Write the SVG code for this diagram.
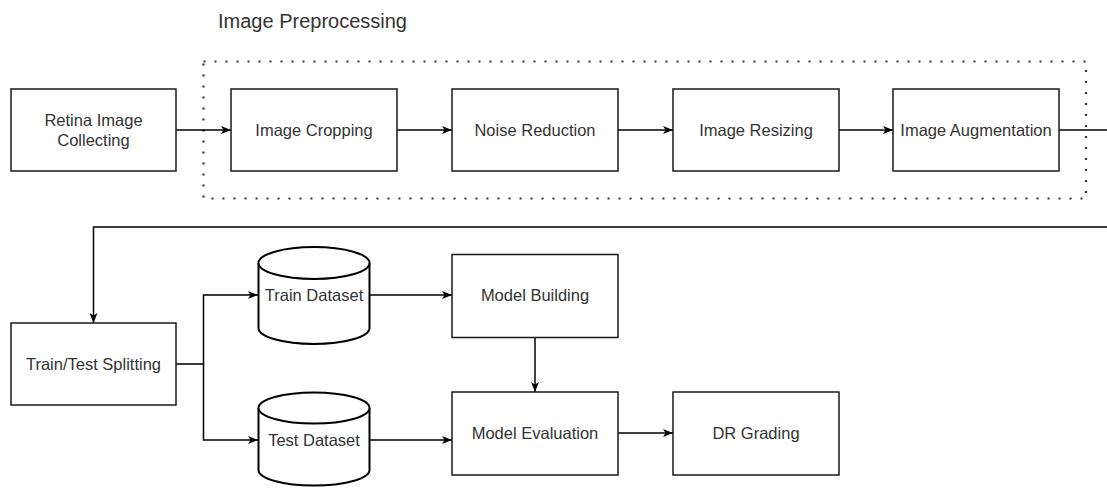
<svg xmlns="http://www.w3.org/2000/svg" width="1107" height="488" viewBox="0 0 1107 488">
<style>
.box{fill:#fff;stroke:#1a1a1a;stroke-width:1.5}
.cyl{fill:#fff;stroke:#000;stroke-width:2}
.t{font-family:"Liberation Sans",Arial,sans-serif;font-size:16.5px;fill:#333;text-anchor:middle}
.c{fill:none;stroke:#000;stroke-width:1.5}
</style>
<defs>
<marker id="a" viewBox="0 0 10 8" refX="10" refY="4" markerWidth="10" markerHeight="8" markerUnits="userSpaceOnUse" orient="auto">
<path d="M0,0 L10,4 L0,8 L2.5,4 Z" fill="#000"/>
</marker>
</defs>
<rect width="1107" height="488" fill="#fff"/>
<g id="preprocessing-group">
<rect x="203.5" y="61.5" width="882.5" height="137" fill="none" stroke="#333" stroke-width="2.2" stroke-dasharray="2 9"/>
<text x="218" y="28" font-family="Liberation Sans,Arial,sans-serif" font-size="20px" fill="#333">Image Preprocessing</text>
</g>
<g id="connectors">
<path class="c" d="M176,130 H231" marker-end="url(#a)"/>
<path class="c" d="M397,130 H452" marker-end="url(#a)"/>
<path class="c" d="M618,130 H673" marker-end="url(#a)"/>
<path class="c" d="M839,130 H893" marker-end="url(#a)"/>
<path class="c" d="M1059,130 H1107"/>
<path class="c" d="M1107,227 H93.5 V323" marker-end="url(#a)"/>
<path class="c" d="M176,364 H203.5 V295 H258" marker-end="url(#a)"/>
<path class="c" d="M203.5,364 V440 H258" marker-end="url(#a)"/>
<path class="c" d="M369,295 H452" marker-end="url(#a)"/>
<path class="c" d="M369,440 H452" marker-end="url(#a)"/>
<path class="c" d="M535,337 V392" marker-end="url(#a)"/>
<path class="c" d="M618,433 H673" marker-end="url(#a)"/>
</g>
<g id="retina">
<rect class="box" x="11" y="89" width="165" height="82"/>
<text class="t" x="93.5" y="126">Retina Image</text>
<text class="t" x="93.5" y="146">Collecting</text>
</g>
<g id="cropping">
<rect class="box" x="231" y="89" width="166" height="82"/>
<text class="t" x="314" y="136">Image Cropping</text>
</g>
<g id="noise">
<rect class="box" x="452" y="89" width="166" height="82"/>
<text class="t" x="535" y="136">Noise Reduction</text>
</g>
<g id="resizing">
<rect class="box" x="673" y="89" width="166" height="82"/>
<text class="t" x="756" y="136">Image Resizing</text>
</g>
<g id="augmentation">
<rect class="box" x="893" y="89" width="166" height="82"/>
<text class="t" x="976" y="136">Image Augmentation</text>
</g>
<g id="split">
<rect class="box" x="11" y="323" width="165" height="82"/>
<text class="t" x="93.5" y="370">Train/Test Splitting</text>
</g>
<g id="train">
<path class="cyl" d="M258.5,263 A55.5,16 0 0 1 369.5,263 V328 A55.5,16 0 0 1 258.5,328 Z"/>
<path class="cyl" d="M258.5,263 A55.5,16 0 0 0 369.5,263" fill="none"/>
<text class="t" x="314" y="301">Train Dataset</text>
</g>
<g id="test">
<path class="cyl" d="M258.5,408 A55.5,15.5 0 0 1 369.5,408 V470 A55.5,15.5 0 0 1 258.5,470 Z"/>
<path class="cyl" d="M258.5,408 A55.5,15.5 0 0 0 369.5,408" fill="none"/>
<text class="t" x="314" y="446">Test Dataset</text>
</g>
<g id="building">
<rect class="box" x="452" y="254.5" width="166" height="83"/>
<text class="t" x="535" y="301">Model Building</text>
</g>
<g id="evaluation">
<rect class="box" x="452" y="392" width="166" height="83"/>
<text class="t" x="535" y="439">Model Evaluation</text>
</g>
<g id="grading">
<rect class="box" x="673" y="392" width="166" height="83"/>
<text class="t" x="756" y="439">DR Grading</text>
</g>
</svg>
